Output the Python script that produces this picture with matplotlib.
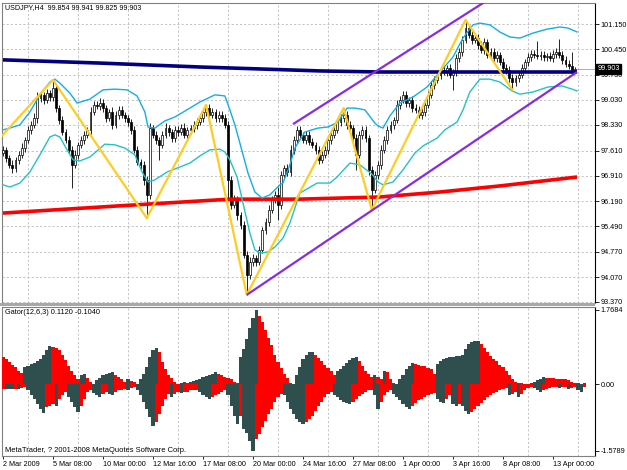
import matplotlib
matplotlib.use("Agg")
import matplotlib.pyplot as plt
import matplotlib.transforms as mtransforms
from matplotlib.patches import Rectangle
import numpy as np

plt.rcParams['font.family'] = ['Liberation Sans', 'DejaVu Sans']

# ---------------- data ----------------
title_text = "USDJPY,H4  99.854 99.941 99.825 99.903"
gator_text = "Gator(12,6,3) 0.1120 -0.1040"
copyright_text = "MetaTrader, ? 2001-2008 MetaQuotes Software Corp."
last_price = 99.903

first_open = 97.55
closes = [
    97.63, 97.40, 97.21, 97.12, 97.35, 97.49, 97.68, 97.91, 98.19, 98.33,
    98.52, 99.08, 99.17, 99.03, 99.22, 99.11, 99.36, 98.80, 98.47, 98.13,
    97.91, 97.63, 97.21, 97.49, 97.77, 97.91, 98.05, 98.19, 98.69, 98.89,
    98.86, 98.94, 98.80, 98.52, 98.69, 98.33, 98.61, 98.75, 98.61, 98.52,
    98.41, 98.19, 97.63, 97.29, 97.21, 96.79, 96.37, 98.24, 98.05, 97.91,
    97.77, 98.05, 98.24, 98.13, 97.96, 98.19, 98.13, 98.24, 98.05, 98.19,
    98.24, 98.33, 98.41, 98.52, 98.69, 98.80, 98.61, 98.69, 98.52, 98.61,
    98.52, 98.33, 96.79, 96.09, 96.23, 95.81, 95.53, 94.69, 94.13, 94.49,
    94.60, 94.49, 94.83, 95.39, 95.61, 95.95, 96.23, 96.37, 96.09, 96.93,
    97.12, 97.01, 97.63, 97.91, 98.19, 98.05, 97.91, 98.05, 97.85, 97.77,
    97.63, 97.35, 97.49, 97.63, 97.91, 98.05, 98.19, 98.41, 98.52, 98.61,
    98.33, 98.24, 97.96, 97.49, 98.05, 98.19, 97.96, 97.07, 96.51, 96.93,
    97.21, 97.63, 97.91, 98.19, 98.33, 98.47, 98.89, 99.03, 99.17, 98.94,
    99.03, 98.80, 98.75, 98.61, 98.69, 98.89, 99.17, 99.45, 99.59, 99.73,
    99.87, 99.81, 99.92, 99.73, 99.81, 100.20, 100.37, 100.71, 101.04, 100.85,
    100.71, 100.76, 100.57, 100.43, 100.65, 100.29, 100.37, 100.20, 100.29, 100.09,
    99.92, 99.87, 99.64, 99.53, 99.64, 99.73, 99.92, 100.09, 100.23, 100.31,
    100.29, 100.26, 100.29, 100.23, 100.26, 100.20, 100.31, 100.37, 100.29, 100.15,
    100.03, 99.98, 99.854, 99.903,
]
# wick lengths beyond the candle body, in hundredths of a yen
wick_up = [
    12, 8, 10, 15, 9, 11, 14, 8, 12, 10, 13, 18, 10, 9, 12, 10,
    23,
    10, 8, 12, 9, 11, 10, 14, 8, 10, 12, 9, 15, 11, 10, 13,
    12, 10, 9, 14, 11, 10, 12, 9, 10, 8, 12, 10, 9, 11, 10,
    15, 10, 12, 9, 11, 14, 10, 9, 12, 10, 11, 13, 9, 10,
    12, 10, 9, 11, 9, 12, 10, 9, 11, 10, 12,
    10, 12, 14, 10, 9, 12, 10, 15, 12, 10, 11, 9, 12, 14, 10, 12, 22, 11, 10, 12,
    15, 12, 10, 11, 9, 12, 10, 11, 9, 10, 12, 10, 11, 9, 12, 10, 11, 19, 10, 12,
    9, 11, 12, 10, 11, 9, 12, 10, 11, 14,
    12, 10, 11, 9, 14, 10, 12, 11, 9, 10, 12, 10, 11, 9, 10, 12, 11, 10, 9, 12,
    10, 11, 9, 12, 10, 11, 23, 10, 12, 10,
    11, 10, 12, 9, 10, 11, 12, 9, 10, 11, 10, 12, 9, 10, 11, 9, 10, 12, 11, 39,
    10, 12, 9, 10, 11, 10, 36, 11, 10, 12, 39, 4,
]
wick_dn = [
    10, 12, 9, 14, 10, 11, 9, 12, 10, 11, 9, 13, 10, 12, 9, 11,
    10, 12, 11, 9, 10, 12, 65, 10, 11, 9, 12, 10, 11, 9, 10, 12,
    10, 11, 9, 12, 10, 11, 9, 10, 12, 11, 10, 9, 12, 14, 65,
    12, 10, 11, 42, 10, 9, 11, 12, 10, 11, 9, 10, 12, 11,
    10, 11, 9, 12, 10, 11, 9, 10, 12, 11, 10,
    56, 12, 10, 14, 12, 10, 56, 12, 10, 11, 9, 10, 12, 11, 10, 9, 43, 11, 10, 12,
    10, 11, 9, 12, 10, 11, 9, 10, 12, 11, 10, 9, 12, 11, 10, 9, 11, 10, 12, 9,
    11, 42, 10, 12, 11, 14, 56, 10, 11, 12,
    10, 11, 9, 12, 10, 11, 9, 10, 12, 11, 10, 9, 12, 11, 10, 9, 11, 10, 12, 9,
    11, 10, 42, 11, 10, 12, 9, 10, 11, 10,
    11, 10, 12, 9, 10, 11, 12, 9, 10, 11, 12, 22, 10, 11, 9, 10, 12, 11, 10, 9,
    11, 10, 12, 9, 10, 11, 10, 12, 9, 10, 11, 3,
]

# zigzag pivots (bar index, use high 'H' or low 'L')
zz_start = (-1.0, 97.96)
zz_bars = [16, 46, 65, 78, 109, 118, 148, 163]
zz_kind = ['H', 'L', 'H', 'L', 'H', 'L', 'H', 'L']

# envelope bands (bar position, price)
band_up_x = [0, 2.2, 5.4, 8.6, 11.8, 15.0, 16.6, 18.2, 21.4, 23.7, 27.8, 32.0, 35.8, 39.7,
             42.9, 45.4, 46.4, 48.6, 51.8, 55.0, 59.8, 63.0, 67.8, 71.0, 72.6, 74.2, 75.8,
             78.4, 80.6, 82.9, 85.4, 88.6, 89.6, 91.8, 93.4, 96.6, 100.8, 104.0, 107.2,
             110.1, 112.6, 115.8, 119.0, 120.0, 121.6, 123.8, 127.0, 131.2, 135.7, 139.8,
             144.0, 147.2, 150.4, 152.6, 155.8, 159.0, 162.2, 165.4, 169.6, 174.1, 178.2,
             180.8, 183.7]
band_up_y = [98.19, 98.24, 98.33, 98.69, 99.17, 99.53, 99.61, 99.50, 99.22, 98.94, 99.05,
             99.31, 99.33, 99.31, 99.14, 98.69, 98.27, 98.24, 98.44, 98.55, 98.80, 98.97,
             99.17, 99.14, 98.75, 98.33, 97.82, 96.98, 96.45, 96.28, 96.37, 96.65, 96.70,
             97.21, 97.68, 98.13, 98.24, 98.27, 98.41, 98.80, 98.80, 98.75, 98.38, 98.30,
             98.24, 98.58, 98.94, 99.11, 99.39, 99.81, 100.23, 100.76, 101.13, 101.18,
             101.13, 100.93, 100.79, 100.76, 100.90, 101.01, 101.07, 101.04, 100.93]
band_dn_x = [0, 2.2, 5.4, 8.6, 11.8, 15.0, 16.6, 18.2, 20.5, 22.4, 24.6, 27.8, 30.1, 32.6,
             35.8, 39.0, 42.2, 44.5, 46.4, 48.6, 52.5, 56.6, 59.8, 63.0, 66.2, 69.4, 71.0,
             72.6, 74.9, 76.8, 79.0, 80.6, 82.2, 84.8, 87.0, 89.6, 91.8, 95.0, 100.5, 104.6,
             106.9, 111.0, 114.2, 118.1, 120.0, 121.6, 124.8, 128.0, 131.8, 134.4, 138.9,
             141.4, 145.3, 147.2, 149.4, 152.6, 155.8, 159.0, 162.9, 165.4, 169.6, 174.4,
             178.9, 182.1, 183.7]
band_dn_y = [96.65, 96.59, 96.70, 97.01, 97.49, 97.99, 98.05, 97.99, 97.63, 97.35, 97.32,
             97.43, 97.60, 97.79, 97.77, 97.68, 97.49, 97.01, 96.73, 96.79, 97.01, 97.15,
             97.26, 97.46, 97.63, 97.65, 97.57, 97.35, 96.87, 96.14, 95.30, 94.83, 94.74,
             94.77, 94.91, 95.16, 95.58, 96.42, 96.70, 96.70, 96.87, 97.26, 97.21, 96.95,
             96.73, 96.65, 96.73, 97.07, 97.54, 97.74, 97.96, 98.19, 98.41, 98.75, 99.25,
             99.61, 99.61, 99.53, 99.28, 99.19, 99.25, 99.39, 99.42, 99.33, 99.28]

# slow moving averages (bar position, price)
navy_x = [0, 31.0, 63.0, 101.4, 120.6, 183.7]
navy_y = [100.15, 100.06, 99.95, 99.84, 99.81, 99.81]
red_x = [0, 36.8, 72.6, 95.0, 120.6, 139.8, 159.0, 183.7]
red_y = [95.86, 96.06, 96.25, 96.25, 96.31, 96.45, 96.62, 96.87]

# purple channel
chan_low_x = [78, 183.7]
chan_low_y = [93.57, 99.81]
chan_up_x = [92.8, 155.2]
chan_up_y = [98.35, 101.83]

# gator oscillator
gator_up = [
    0.65, 0.61, 0.53, 0.47, 0.41, 0.33, 0.27, 0.41, 0.45, 0.49,
    0.52, 0.55, 0.61, 0.69, 0.81, 0.91, 0.89, 0.87, 0.81, 0.71,
    0.57, 0.45, 0.33, 0.23, 0.14, 0.22, 0.24, 0.15, 0.07, 0.02,
    0.10, 0.15, 0.22, 0.26, 0.28, 0.29, 0.23, 0.18, 0.12, 0.07,
    0.14, 0.09, 0.06, 0.02, 0.14, 0.26, 0.41, 0.65, 0.81, 0.87,
    0.76, 0.53, 0.36, 0.23, 0.15, 0.07, 0.02, 0.04, 0.06, 0.04,
    0.07, 0.09, 0.10, 0.14, 0.17, 0.20, 0.23, 0.26, 0.29, 0.25,
    0.22, 0.18, 0.15, 0.12, 0.07, 0.03, 0.65, 0.85, 1.09, 1.33,
    1.57, 1.77, 1.63, 1.49, 1.29, 1.11, 0.93, 0.71, 0.53, 0.39,
    0.26, 0.15, 0.04, 0.01, 0.22, 0.41, 0.61, 0.71, 0.76, 0.77,
    0.71, 0.63, 0.55, 0.47, 0.39, 0.33, 0.23, 0.33, 0.37, 0.44,
    0.51, 0.57, 0.63, 0.65, 0.55, 0.44, 0.33, 0.25, 0.17, 0.23,
    0.18, 0.14, 0.31, 0.29, 0.12, 0.04, 0.02, 0.14, 0.23, 0.36,
    0.44, 0.50, 0.49, 0.47, 0.45, 0.43, 0.39, 0.36, 0.26, 0.49,
    0.55, 0.60, 0.63, 0.65, 0.655, 0.67, 0.68, 0.69, 0.85, 0.95,
    1.00, 1.03, 1.04, 0.97, 0.87, 0.77, 0.68, 0.60, 0.55, 0.47,
    0.41, 0.33, 0.22, 0.12, 0.07, 0.04, 0.03, 0.02, 0.01, 0.03,
    0.06, 0.10, 0.14, 0.17, 0.16, 0.15, 0.145, 0.14, 0.13, 0.125,
    0.12, 0.10, 0.07, 0.04, 0.03, 0.02, 0.04,
]
gator_dn = [
    -0.10, -0.10, -0.10, -0.11, -0.10, -0.10, -0.09, -0.07, -0.14, -0.26,
    -0.34, -0.46, -0.58, -0.68, -0.54, -0.50, -0.46, -0.50, -0.34, -0.26,
    -0.18, -0.30, -0.42, -0.54, -0.66, -0.50, -0.34, -0.18, -0.14, -0.20,
    -0.26, -0.30, -0.22, -0.18, -0.22, -0.26, -0.18, -0.14, -0.12, -0.10,
    -0.12, -0.09, -0.07, -0.14, -0.26, -0.42, -0.58, -0.78, -0.98, -0.90,
    -0.70, -0.50, -0.34, -0.22, -0.30, -0.22, -0.18, -0.20, -0.18, -0.17,
    -0.14, -0.13, -0.12, -0.18, -0.25, -0.30, -0.34, -0.30, -0.26, -0.22,
    -0.18, -0.14, -0.26, -0.50, -0.74, -0.94, -0.74, -1.06, -1.14, -1.34,
    -1.58, -1.30, -1.18, -1.02, -0.86, -0.70, -0.58, -0.42, -0.30, -0.22,
    -0.26, -0.42, -0.58, -0.70, -0.82, -0.90, -0.94, -0.90, -0.82, -0.74,
    -0.62, -0.50, -0.41, -0.30, -0.22, -0.17, -0.26, -0.30, -0.36, -0.41,
    -0.44, -0.46, -0.41, -0.34, -0.28, -0.22, -0.18, -0.14, -0.12, -0.26,
    -0.58, -0.42, -0.26, -0.18, -0.14, -0.22, -0.30, -0.38, -0.46, -0.54,
    -0.58, -0.50, -0.44, -0.38, -0.34, -0.30, -0.26, -0.23, -0.21, -0.34,
    -0.42, -0.44, -0.34, -0.26, -0.46, -0.50, -0.46, -0.50, -0.62, -0.70,
    -0.66, -0.58, -0.50, -0.44, -0.36, -0.30, -0.25, -0.20, -0.17, -0.14,
    -0.10, -0.09, -0.26, -0.22, -0.17, -0.30, -0.22, -0.14, -0.09, -0.06,
    -0.09, -0.14, -0.18, -0.14, -0.10, -0.09, -0.07, -0.06, -0.09, -0.07,
    -0.06, -0.10, -0.09, -0.07, -0.12, -0.18, -0.07,
]

price_ticks = [93.37, 94.07, 94.77, 95.49, 96.19, 96.91, 97.61, 98.33, 99.03, 99.73, 100.45, 101.15]
gator_ticks = [1.7684, 0.0, -1.5789]
gator_tick_labels = ["1.7684", "0.00", "-1.5789"]
date_labels = ["2 Mar 2009", "5 Mar 08:00", "10 Mar 00:00", "12 Mar 16:00", "17 Mar 08:00",
               "20 Mar 00:00", "24 Mar 16:00", "27 Mar 08:00", "1 Apr 00:00", "3 Apr 16:00",
               "8 Apr 08:00", "13 Apr 00:00"]
date_bars = [0, 16, 32, 48, 64, 80, 96, 112, 128, 144, 160, 176]
grid_bars = [8, 24, 40, 56, 72, 88, 104, 120, 136, 152, 168, 184]

# ---------------- derived ----------------
n = min(len(closes), len(wick_up), len(wick_dn))
c = np.array(closes[:n])
o = np.array([first_open] + closes[:n - 1])
h = np.maximum(o, c) + np.array(wick_up[:n]) / 100.0
l = np.minimum(o, c) - np.array(wick_dn[:n]) / 100.0
bars = np.arange(n)

# ---------------- figure ----------------
W, H = 627, 470
fig = plt.figure(figsize=(W / 100, H / 100), dpi=100)
fig.patch.set_facecolor('white')

def fx(px):
    return px / W

def fy(py):
    return 1 - py / H

ax1 = fig.add_axes([fx(2), fy(303), (595 - 2) / W, (303 - 3) / H])
ax2 = fig.add_axes([fx(2), fy(456), (595 - 2) / W, (456 - 307) / H])

XL = (-0.32, 189.44)
FS = 5.2
grid_kw = dict(color='#B8B8B8', lw=0.6, ls=(0, (2.5, 2.5)), zorder=0)

# --- main panel ---
ax1.set_xlim(*XL)
ax1.set_ylim(93.342, 101.742)
for gb in grid_bars:
    ax1.axvline(gb, **grid_kw)
for pt in price_ticks:
    ax1.axhline(pt, **grid_kw)

# candles
ax1.vlines(bars, l, h, color='black', lw=0.6, zorder=3)
bot = np.minimum(o, c)
hgt = np.maximum(np.abs(c - o), 0.014)
upm = c >= o
ax1.bar(bars[upm], hgt[upm], bottom=bot[upm], width=0.62, facecolor='white',
        edgecolor='black', linewidth=0.5, zorder=4)
ax1.bar(bars[~upm], hgt[~upm], bottom=bot[~upm], width=0.62, facecolor='black',
        edgecolor='black', linewidth=0.5, zorder=4)

# moving averages and bands
ax1.plot(red_x, red_y, color='#FF0000', lw=2.6, zorder=5, solid_capstyle='butt')
ax1.plot(navy_x, navy_y, color='#000080', lw=2.6, zorder=5, solid_capstyle='butt')
ax1.plot(band_up_x, band_up_y, color='#12AEEA', lw=1.0, zorder=6)
ax1.plot(band_dn_x, band_dn_y, color='#22C3C8', lw=1.0, zorder=6)

# zigzag
zx = [zz_start[0]] + zz_bars
zy = [zz_start[1]] + [h[b] if k == 'H' else l[b] for b, k in zip(zz_bars, zz_kind)]
ax1.plot(zx, zy, color='#FFCC22', lw=1.6, zorder=7)

# channel
ax1.plot(chan_low_x, chan_low_y, color='#8A2BE2', lw=1.6, zorder=7, solid_capstyle='butt')
ax1.plot(chan_up_x, chan_up_y, color='#8A2BE2', lw=1.6, zorder=7, solid_capstyle='butt')

# bid line
ax1.plot([n - 0.3, XL[1]], [last_price, last_price], color='#A0A0A0', lw=0.6, zorder=2)

ax1.set_xticks([])
ax1.yaxis.tick_right()
ax1.set_yticks(price_ticks)
ax1.set_yticklabels(["%.3f" % v for v in price_ticks])
ax1.tick_params(axis='y', direction='out', length=3, width=0.6, labelsize=FS, pad=1.0,
                colors='black')
for s in ['left', 'top', 'bottom']:
    ax1.spines[s].set_color('#808080')
ax1.spines['right'].set_color('black')
ax1.spines['right'].set_linewidth(0.8)

trans = mtransforms.blended_transform_factory(ax1.transAxes, ax1.transData)
ax1.text(1.004, last_price, "%.3f" % last_price, transform=trans, ha='left', va='center',
         color='white', fontsize=FS, clip_on=False, zorder=20,
         bbox=dict(boxstyle='square,pad=0.22', fc='black', ec='black'))

# --- gator panel ---
ax2.set_xlim(*XL)
ax2.set_ylim(-1.6976, 1.8396)
for gb in grid_bars:
    ax2.axvline(gb, **grid_kw)
gu = np.array(gator_up)
gd = np.array(gator_dn)
dark = '#2F4F4F'
cu = [('#FF0000' if i == 0 or gu[i] < gu[i - 1] else dark) for i in range(len(gu))]
cd = [('#FF0000' if i == 0 or abs(gd[i]) < abs(gd[i - 1]) else dark) for i in range(len(gd))]
ax2.bar(np.arange(len(gu)), gu, width=1.02, color=cu, linewidth=0, zorder=3)
ax2.bar(np.arange(len(gd)), gd, width=1.02, color=cd, linewidth=0, zorder=3)

ax2.yaxis.tick_right()
ax2.set_yticks(gator_ticks)
ax2.set_yticklabels(gator_tick_labels)
ax2.tick_params(axis='y', direction='out', length=3, width=0.6, labelsize=FS, pad=1.0)
ax2.set_xticks(date_bars)
ax2.set_xticklabels(date_labels, ha='left')
ax2.tick_params(axis='x', direction='out', length=2, width=0.6, labelsize=FS, pad=1.5)
for s in ['left', 'top', 'bottom']:
    ax2.spines[s].set_color('#808080')
ax2.spines['right'].set_color('black')
ax2.spines['right'].set_linewidth(0.8)

# separator between panels
fig.patches.append(Rectangle((fx(0), fy(306)), fx(595), 3 / H, transform=fig.transFigure,
                             facecolor='#A8A8A8', edgecolor='none', zorder=0))

# texts
fig.text(fx(5), fy(8), title_text, fontsize=5.1, ha='left', va='center')
fig.text(fx(5), fy(313), gator_text, fontsize=5.3, ha='left', va='center')
fig.text(fx(5), fy(450), copyright_text, fontsize=5.4, ha='left', va='center')

fig.savefig("out.png", dpi=100, facecolor='white')
